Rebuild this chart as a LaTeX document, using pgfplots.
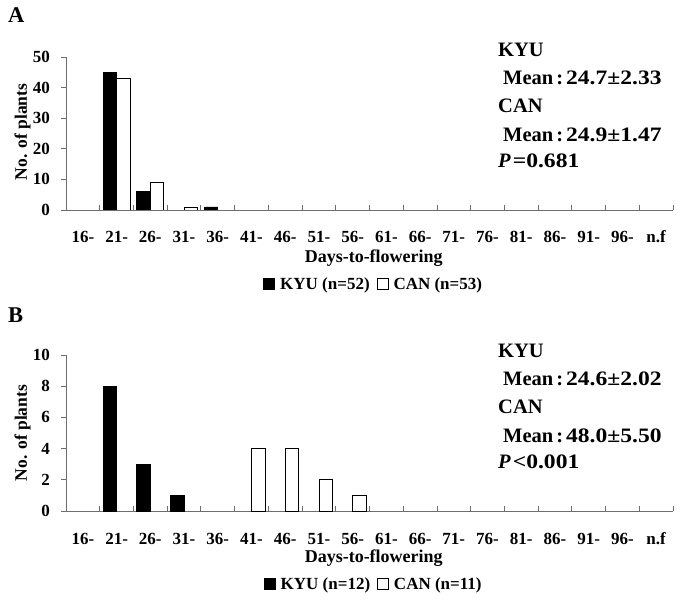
\documentclass[border=0pt]{standalone}
\usepackage{fontspec}
\setmainfont{Liberation Serif}
\usepackage{graphicx}
\usepackage{pgfplots}
\pgfplotsset{compat=1.18}

\definecolor{axisgray}{RGB}{110,110,110}

\newcommand{\num}[1]{\scalebox{1.15}[1]{#1}}
\newcommand{\mean}[1]{Mean\hspace{3pt}:\hspace{3pt}\num{#1}}

\pgfplotsset{
  hist/.style={
    scale only axis,
    width=607pt,
    xmin=-0.5, xmax=17.5, ymin=0,
    axis x line=bottom, axis y line=left,
    tick align=inside,
    axis line style={-, axisgray, line width=0.8pt},
    xtick={0,...,17},
    xticklabels={16-,21-,26-,31-,36-,41-,46-,51-,56-,61-,66-,71-,76-,81-,86-,91-,96-,n.f},
    minor xtick={0.5,1.5,...,17.5},
    every major x tick/.append style={draw=none},
    every minor x tick/.append style={axisgray, line width=0.8pt},
    minor tick length=5pt,
    major tick length=5pt,
    every major y tick/.append style={axisgray, line width=0.8pt, xshift=-5pt},
    /pgf/number format/assume math mode=true,
    xticklabel style={font=\fontsize{17}{18}\selectfont\bfseries, anchor=base, inner sep=0pt, yshift=-33pt},
    yticklabel style={font=\fontsize{17}{18}\selectfont\bfseries, anchor=east, inner sep=0pt, xshift=-16pt},
    xlabel={Days-to-flowering},
    ylabel={No. of plants},
    xlabel style={font=\fontsize{18}{20}\selectfont\bfseries, anchor=base, inner sep=0pt},
    ylabel style={font=\fontsize{17.5}{20}\selectfont\bfseries, anchor=center, inner sep=0pt, rotate=0},
    legend columns=2,
    legend style={draw=none, fill=none, anchor=center,
      font=\fontsize{17}{19}\selectfont\bfseries,
      /tikz/every even column/.append style={column sep=5pt}},
  },
  kyubar/.style={fill=black, draw=black, line width=0.8pt, bar width=0.4, bar shift=-0.2,
    legend image code/.code={\draw[fill=black, draw=black] (0pt,-5.5pt) rectangle (11pt,5.5pt); \path (14pt,0pt);}},
  canbar/.style={fill=white, draw=black, line width=0.8pt, bar width=0.4, bar shift=0.2,
    legend image code/.code={\draw[fill=white, draw=black, line width=0.8pt] (0pt,-5.5pt) rectangle (11pt,5.5pt); \path (14pt,0pt);}},
}

\begin{document}
\begin{tikzpicture}
\path[use as bounding box] (0pt,0pt) rectangle (682pt,-601pt);

% ---------------- Panel A ----------------
\node[anchor=base west, inner sep=0pt, font=\fontsize{22.5}{24}\selectfont\bfseries] at (8pt,-23pt) {A};
\begin{axis}[hist, at={(66pt,-210pt)}, anchor=south west,
  height=153pt, ymax=50, ytick={0,10,20,30,40,50},
  xlabel style={at={(axis description cs:0.507,-0.34)}},
  ylabel style={at={(axis description cs:-0.0717,0.51)}},
  legend style={at={(axis description cs:0.507,-0.484)}},
]
\addplot[ybar, kyubar] coordinates {(1,45) (2,6) (4,1)};
\addlegendentry{KYU (n=52)}
\addplot[ybar, canbar] coordinates {(1,43) (2,9) (3,1)};
\addlegendentry{CAN (n=53)}
\end{axis}
\begin{scope}[every node/.style={anchor=base west, inner sep=0pt, font=\fontsize{20.5}{24}\selectfont\bfseries}]
\node at (498pt,-57pt) {KYU};
\node at (503pt,-85pt) {\mean{24.7±2.33}};
\node at (498pt,-113pt) {CAN};
\node at (503pt,-142pt) {\mean{24.9±1.47}};
\node at (498pt,-168pt) {\textit{P}\hspace{2pt}\num{=0.681}};
\end{scope}

% ---------------- Panel B ----------------
\node[anchor=base west, inner sep=0pt, font=\fontsize{22.5}{24}\selectfont\bfseries] at (8pt,-323pt) {B};
\begin{axis}[hist, at={(66pt,-511pt)}, anchor=south west,
  height=156pt, ymax=10, ytick={0,2,4,6,8,10},
  xlabel style={at={(axis description cs:0.507,-0.327)}},
  ylabel style={at={(axis description cs:-0.0717,0.5)}},
  legend style={at={(axis description cs:0.507,-0.468)}},
]
\addplot[ybar, kyubar] coordinates {(1,8) (2,3) (3,1)};
\addlegendentry{KYU (n=12)}
\addplot[ybar, canbar] coordinates {(5,4) (6,4) (7,2) (8,1)};
\addlegendentry{CAN (n=11)}
\end{axis}
\begin{scope}[every node/.style={anchor=base west, inner sep=0pt, font=\fontsize{20.5}{24}\selectfont\bfseries}]
\node at (498pt,-357pt) {KYU};
\node at (503pt,-385pt) {\mean{24.6±2.02}};
\node at (498pt,-413pt) {CAN};
\node at (503pt,-442pt) {\mean{48.0±5.50}};
\node at (498pt,-468pt) {\textit{P}\hspace{2pt}\num{<0.001}};
\end{scope}
\end{tikzpicture}
\end{document}
